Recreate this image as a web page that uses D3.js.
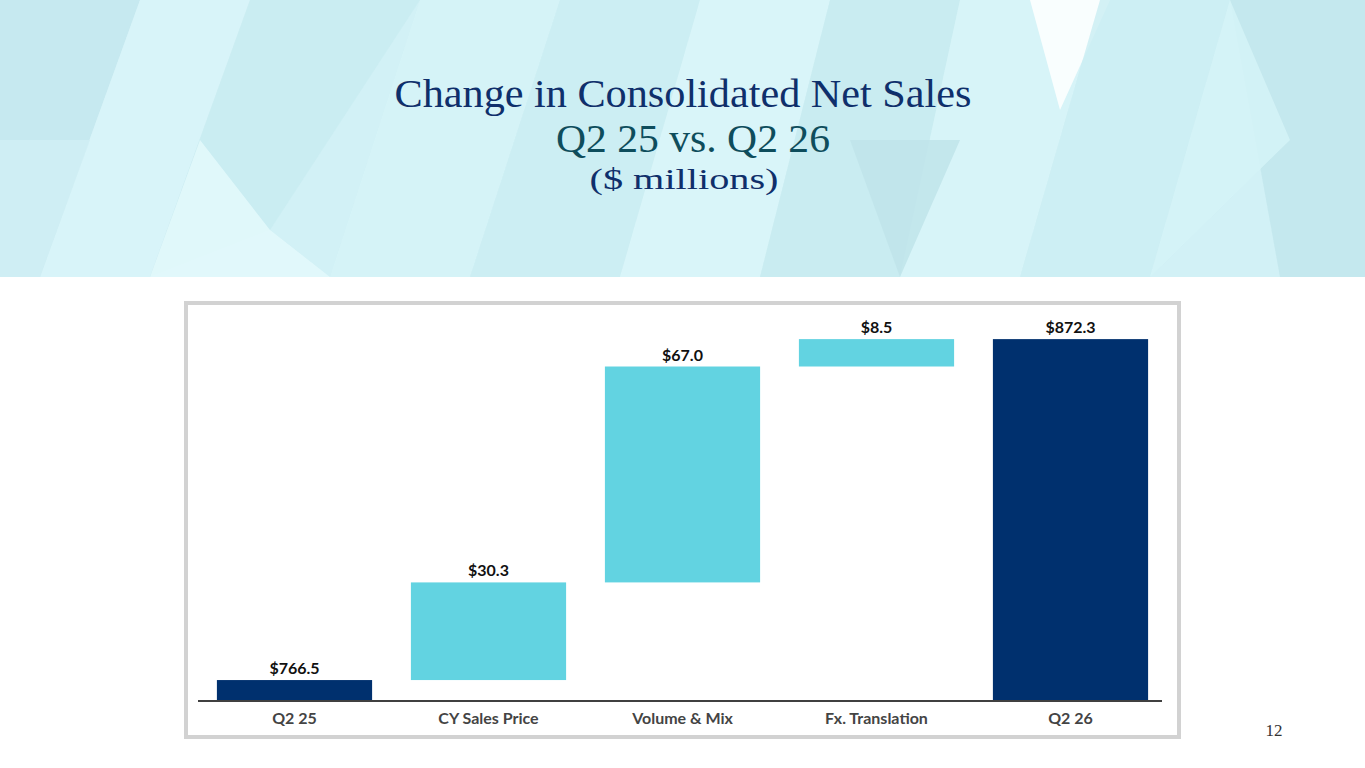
<!DOCTYPE html>
<html>
<head>
<meta charset="utf-8">
<script src="https://cdn.jsdelivr.net/npm/d3@7"></script>
<style>
  body { margin: 0; background: #fff; }
  svg { display: block; }
</style>
</head>
<body>
<svg id="chart" width="1365" height="768"></svg>
<script>
// data
const categories = ["Q2 25", "CY Sales Price", "Volume & Mix", "Fx. Translation", "Q2 26"];
const amounts = [766.5, 30.3, 67.0, 8.5, 872.3];
const kinds = ["total", "delta", "delta", "delta", "total"];
const valueLabels = ["$766.5", "$30.3", "$67.0", "$8.5", "$872.3"];

const svg = d3.select("#chart");

// header background, faceted light cyan
const header = svg.append("g");
header.append("rect").attr("width", 1365).attr("height", 277).attr("fill", "#d2f1f6");
const facets = [
  [[0,0],[140,0],[40,277],[0,277],"#c4e8ee"],
  [[140,0],[250,0],[150,277],[40,277],"#d9f5f9"],
  [[250,0],[420,0],[270,230],[150,277],"#c9ecf1"],
  [[200,140],[270,230],[330,277],[150,277],"#e4f9fb"],
  [[420,0],[560,0],[470,277],[330,277],"#d6f3f7"],
  [[560,0],[700,0],[620,277],[470,277],"#cbedf2"],
  [[700,0],[830,0],[760,277],[620,277],"#dbf6f9"],
  [[830,0],[960,0],[900,277],[760,277],"#c8ebf0"],
  [[960,0],[1100,0],[1020,277],[900,277],"#d8f5f8"],
  [[1030,0],[1110,0],[1060,110],"#ffffff"],
  [[1100,0],[1230,0],[1150,277],[1020,277],"#cdeef3"],
  [[1230,0],[1365,0],[1365,277],[1280,277],"#c2e6ec"],
  [[1230,0],[1290,140],[1150,277],"#d5f3f7"],
  [[0,140],[90,140],[40,277],[0,277],"#d0eff4"],
  [[850,140],[960,140],[900,277],"#bfe4ea"]
];
header.selectAll("polygon")
  .data(facets)
  .enter().append("polygon")
  .attr("points", d => d.slice(0, -1).map(p => p.join(",")).join(" "))
  .attr("fill", d => d[d.length - 1])
  .attr("opacity", 0.85);

// titles
const title = svg.append("g").attr("text-anchor", "middle")
  .style("font-family", "'Liberation Serif', 'DejaVu Serif', serif");
title.append("text").attr("x", 683).attr("y", 107)
  .attr("font-size", 41).attr("fill", "#0f2f6b")
  .attr("textLength", 577).attr("lengthAdjust", "spacingAndGlyphs")
  .text("Change in Consolidated Net Sales");
title.append("text").attr("x", 693).attr("y", 152)
  .attr("font-size", 41).attr("fill", "#0e4d5c")
  .attr("textLength", 274).attr("lengthAdjust", "spacingAndGlyphs")
  .text("Q2 25 vs. Q2 26");
title.append("text").attr("x", 684).attr("y", 189)
  .attr("font-size", 29).attr("fill", "#0f2f6b")
  .attr("textLength", 189).attr("lengthAdjust", "spacingAndGlyphs")
  .text("($ millions)");

// chart frame
svg.append("rect")
  .attr("x", 186).attr("y", 303).attr("width", 993).attr("height", 434)
  .attr("fill", "#fff").attr("stroke", "#d2d2d2").attr("stroke-width", 4);

// waterfall steps
let running = 0;
const bars = categories.map((c, i) => {
  let lo, hi;
  if (kinds[i] === "total") { lo = null; hi = amounts[i]; running = amounts[i]; }
  else { lo = running; hi = running + amounts[i]; running = hi; }
  return { cat: c, lo, hi, kind: kinds[i], label: valueLabels[i] };
});

const x = d3.scaleBand().domain(categories).range([197.5, 1167.5])
  .paddingInner(0.2).paddingOuter(0.1);
const y = d3.scaleLinear().domain([760, 880]).range([701, 314.3]);

const g = svg.append("g");
g.selectAll(".bar")
  .data(bars)
  .enter().append("rect")
  .attr("class", "bar")
  .attr("x", d => x(d.cat))
  .attr("width", x.bandwidth())
  .attr("y", d => y(d.hi))
  .attr("height", d => (d.lo === null ? y.range()[0] : y(d.lo)) - y(d.hi))
  .attr("fill", d => d.kind === "total" ? "#00306e" : "#62d3e1");

g.selectAll(".val")
  .data(bars)
  .enter().append("text")
  .attr("class", "val")
  .attr("x", d => x(d.cat) + x.bandwidth() / 2)
  .attr("y", d => y(d.hi) - 6)
  .attr("text-anchor", "middle")
  .style("font-family", "Lato, 'Open Sans', sans-serif")
  .style("font-weight", "bold").style("font-size", "16px")
  .attr("fill", "#111")
  .text(d => d.label);

const axis = g.append("g").attr("transform", "translate(0,701)")
  .call(d3.axisBottom(x).tickSize(0).tickPadding(12));
axis.select(".domain").attr("stroke", "#404040").attr("stroke-width", 2)
  .attr("d", "M198,0H1162");
axis.selectAll("text")
  .style("font-family", "Lato, 'Open Sans', sans-serif")
  .style("font-weight", "bold").style("font-size", "16px")
  .attr("fill", "#444");

// page number
svg.append("text").attr("x", 1274).attr("y", 736).attr("text-anchor", "middle")
  .style("font-family", "'Liberation Serif', serif").style("font-size", "17px")
  .attr("fill", "#333").text("12");
</script>
</body>
</html>
